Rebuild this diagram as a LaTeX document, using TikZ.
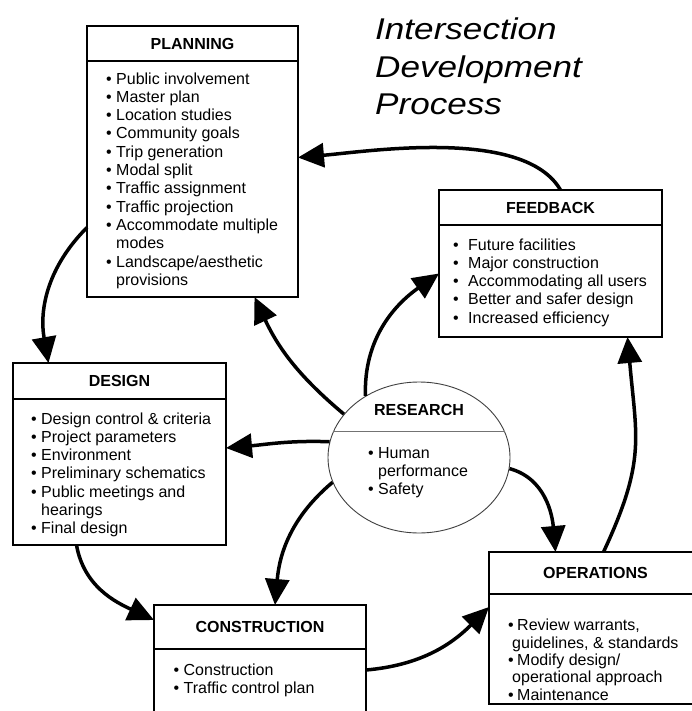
\documentclass[tikz,border=0pt]{standalone}
\usepackage{fontspec}
\setmainfont{Liberation Sans}
\usepackage{graphicx}
\usetikzlibrary{arrows.meta,shapes.geometric}
\newcommand{\bodyfont}{\fontsize{16}{18.3}\selectfont}
\newcommand{\bul}[1][10pt]{\strut\makebox[#1][l]{\textbullet}}
\newcommand{\cont}[1][10pt]{\strut\hspace*{#1}}

\begin{document}
\begin{tikzpicture}[x=1pt,y=1pt,
frame/.style={draw,line width=1.2pt,anchor=north west,inner sep=0pt,outer sep=0pt},
head/.style={draw,line width=1.2pt,anchor=north,inner sep=0pt,outer sep=0pt,font=\bodyfont\bfseries},
list/.style={anchor=north west,align=left,inner sep=0pt,font=\bodyfont},
arr/.style={-{Triangle[length=26pt,width=24pt]},line width=3.5pt}]
\path[fill=white,use as bounding box] (0,0) rectangle (692,-711);
% title
\node[anchor=base west,inner sep=0pt,font=\fontsize{30}{37.5}\selectfont\itshape] (title) at (375,-40)
 {\scalebox{1.17}[1]{\begin{tabular}[t]{@{}l@{}}Intersection\\Development\\Process\end{tabular}}};
% planning
\node[frame,minimum width=211pt,minimum height=271pt] (plan) at (87,-26) {};
\node[head,minimum width=211pt,minimum height=35pt] (planh) at (plan.north) {PLANNING};
\node[list] (planl) at ([xshift=19pt,yshift=-10pt]planh.south west) {\bul Public involvement\\\bul Master plan\\\bul Location studies\\\bul Community goals\\\bul Trip generation\\\bul Modal split\\\bul Traffic assignment\\\bul Traffic projection\\\bul Accommodate multiple\\\cont modes\\\bul Landscape/aesthetic\\\cont provisions};
% feedback
\node[frame,minimum width=223pt,minimum height=147pt] (fb) at (439,-190) {};
\node[head,minimum width=223pt,minimum height=35pt] (fbh) at (fb.north) {FEEDBACK};
\node[list] (fbl) at ([xshift=14pt,yshift=-12pt]fbh.south west) {\bul[15pt]Future facilities\\\bul[15pt]Major construction\\\bul[15pt]Accommodating all users\\\bul[15pt]Better and safer design\\\bul[15pt]Increased efficiency};
% design
\node[frame,minimum width=213pt,minimum height=182pt] (des) at (13,-363) {};
\node[head,minimum width=213pt,minimum height=36pt] (desh) at (des.north) {DESIGN};
\node[list] (desl) at ([xshift=18pt,yshift=-12pt]desh.south west) {\bul Design control \& criteria\\\bul Project parameters\\\bul Environment\\\bul Preliminary schematics\\\bul Public meetings and\\\cont hearings\\\bul Final design};
% construction
\node[frame,minimum width=212pt,minimum height=130pt] (con) at (154,-605) {};
\node[head,minimum width=212pt,minimum height=44pt] (conh) at (con.north) {CONSTRUCTION};
\node[list] (conl) at ([xshift=19.5pt,yshift=-13pt]conh.south west) {\bul Construction\\\bul Traffic control plan};
% operations
\node[frame,minimum width=213pt,minimum height=152pt] (ops) at (489,-552) {};
\node[head,minimum width=213pt,minimum height=42pt] (opsh) at (ops.north) {OPERATIONS};
\node[list,font=\fontsize{16}{16}\selectfont] (opsl) at ([xshift=19pt,yshift=-25pt]opsh.south west) {\bul[9pt]Review warrants,\\\cont[4pt]guidelines, \& standards\\\bul[9pt]Modify design/\\\cont[4pt]operational approach\\\bul[9pt]Maintenance};
% research
\node[ellipse,draw=black!75,line width=0.9pt,minimum width=182pt,minimum height=151pt,inner sep=0pt] (res) at (419,-457.5) {};
\draw[black!55,line width=0.9pt] (res.163) -- (res.17);
\node[anchor=base,font=\bodyfont\bfseries] (resh) at ([yshift=42.5pt]res.center) {RESEARCH};
\node[list] (resl) at ([xshift=-51pt,yshift=12.5pt]res.center) {\bul Human\\\cont performance\\\bul Safety};
% cycle
\draw[arr] ([xshift=10pt]fb.north) to[out=120,in=5,looseness=0.7] ([yshift=4pt]plan.east);
\draw[arr] ([yshift=-66pt]plan.west) to[out=225,in=100] ([xshift=-71pt]des.north);
\draw[arr] ([xshift=-43pt]des.south) to[out=-80,in=155] ([yshift=-15pt]con.north west);
\draw[arr] (con.east) to[out=5,in=225] ([yshift=21pt]ops.west);
\draw[arr] ([xshift=8pt]ops.north) to[out=65,in=-85,looseness=1.2] ([xshift=77pt]fb.south);
% research outputs
\draw[arr] (res.150) to[out=140,in=-65] ([xshift=62pt]plan.south);
\draw[arr] (res.131) to[out=92,in=215] ([yshift=-10pt]fb.west);
\draw[arr] (res.170) to[out=178,in=5] ([yshift=6pt]des.east);
\draw[arr] (res.196) to[out=220,in=85] ([xshift=15pt]con.north);
\draw[arr] (res.-7) to[out=-15,in=95] ([xshift=-40pt]ops.north);
\end{tikzpicture}
\end{document}
